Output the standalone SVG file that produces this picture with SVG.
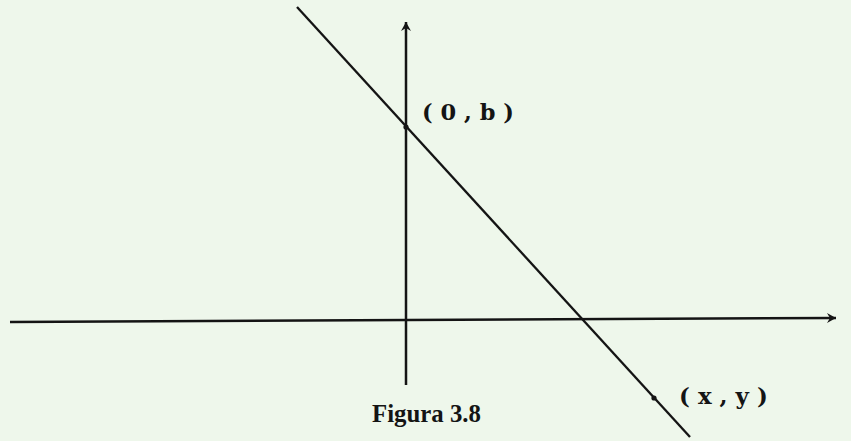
<svg xmlns="http://www.w3.org/2000/svg" width="851" height="441" viewBox="0 0 851 441">
  <defs>
    <style>
      .axis { stroke: #141414; stroke-width: 2.5; fill: none; stroke-linecap: butt; }
      .line { stroke: #141414; stroke-width: 2.3; fill: none; }
      .dot { fill: #141414; }
      .lbl { font-family: "DejaVu Serif", "Liberation Serif", serif; font-weight: bold; fill: #141414; }
      .cap { font-family: "Liberation Serif", "DejaVu Serif", serif; font-weight: bold; fill: #141414; }
    </style>
    <marker id="arr" viewBox="0 0 12 12" refX="10" refY="6" markerWidth="12" markerHeight="12" markerUnits="userSpaceOnUse" orient="auto">
      <path d="M1,1 L10,6 L1,11 L4,6 Z" fill="#141414"/>
    </marker>
  </defs>
  <rect x="0" y="0" width="851" height="441" fill="#eef7eb"/>
  <g id="connectors">
    <line id="x-axis" class="axis" x1="10" y1="322" x2="836" y2="318" marker-end="url(#arr)"/>
    <line id="y-axis" class="axis" x1="406" y1="385" x2="406" y2="22" marker-end="url(#arr)"/>
    <line id="recta" class="line" x1="297" y1="7" x2="690" y2="437"/>
  </g>
  <g id="point-0b">
    <circle class="dot" cx="406" cy="127" r="2.6"/>
    <text class="lbl" x="422" y="120" font-size="22.5">( 0 , b )</text>
  </g>
  <g id="point-xy">
    <circle class="dot" cx="654" cy="398" r="2.6"/>
    <text class="lbl" x="679" y="404" font-size="23">( x , y )</text>
  </g>
  <g id="caption">
    <text class="cap" x="372" y="422" font-size="26" textLength="109" lengthAdjust="spacingAndGlyphs">Figura 3.8</text>
  </g>
</svg>
